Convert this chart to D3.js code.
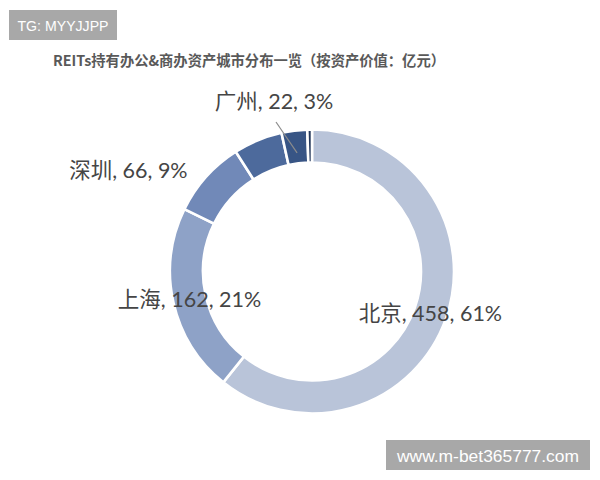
<!DOCTYPE html>
<html><head><meta charset="utf-8">
<script src="https://cdn.jsdelivr.net/npm/d3@7"></script>
<style>
html,body{margin:0;padding:0;background:#fff;}
svg{display:block;}
</style></head>
<body>
<svg id="c" width="600" height="480"></svg>
<script>
// ---- data ----
const categories = ["北京", "上海", "深圳", "其他A", "广州", "其他B"];
const values = [458, 162, 66, 42, 22, 4];
const percents = ["61%", "21%", "9%", "", "3%", ""];
const showLabel = [true, true, true, false, true, false];
const colors = ["#b9c4d9", "#8ea2c7", "#7189b8", "#4d6a9c", "#385585", "#23375a"];
const titleText = "REITs持有办公&商办资产城市分布一览（按资产价值：亿元）";

// ---- layout ----
const svg = d3.select("#c");
const cx = 312, cy = 271.5, rOuter = 142, rInner = 109;
const labelFont = "Lato, 'Noto Sans CJK SC', sans-serif";

// watermark top-left
svg.append("rect").attr("x", 9).attr("y", 10).attr("width", 108).attr("height", 30).attr("fill", "#a8a8a8");
svg.append("text").attr("x", 63).attr("y", 30.5).attr("text-anchor", "middle")
  .attr("font-family", "'Liberation Sans', Arial, sans-serif").attr("font-size", 15)
  .attr("textLength", 91).attr("lengthAdjust", "spacingAndGlyphs")
  .attr("fill", "#fff").text("TG: MYYJJPP");

// title
svg.append("text").attr("x", 249).attr("y", 66).attr("text-anchor", "middle")
  .attr("font-family", "'Noto Sans CJK SC', sans-serif").attr("font-weight", "bold")
  .attr("font-size", 14.3).attr("fill", "#595959").text(titleText);

// donut
const data = categories.map((c, i) => ({name: c, value: values[i], pct: percents[i], show: showLabel[i], color: colors[i]}));
const pie = d3.pie().value(d => d.value).sort(null).startAngle(0).endAngle(2 * Math.PI);
const arcs = pie(data);
const arc = d3.arc().innerRadius(rInner).outerRadius(rOuter);
const g = svg.append("g").attr("transform", `translate(${cx},${cy})`);
g.selectAll("path").data(arcs).join("path")
  .attr("d", arc).attr("fill", d => d.data.color)
  .attr("stroke", "#fff").attr("stroke-width", 2.6).attr("stroke-linejoin", "miter");

// label offsets relative to arc centroid (for labels moved outside)
const labelShift = {"深圳": [-90, -17]};
const labelAbs = {"广州": [274, 101]};

arcs.forEach(a => {
  if (!a.data.show) return;
  const c = arc.centroid(a);
  let x = cx + c[0], y = cy + c[1];
  if (labelShift[a.data.name]) { x += labelShift[a.data.name][0]; y += labelShift[a.data.name][1]; }
  if (labelAbs[a.data.name]) { x = labelAbs[a.data.name][0]; y = labelAbs[a.data.name][1]; }
  svg.append("text").attr("x", x).attr("y", y).attr("dy", "0.35em")
    .attr("text-anchor", "middle").attr("font-family", labelFont)
    .attr("font-size", 21.5).attr("fill", "#454545")
    .text(`${a.data.name}, ${a.data.value}, ${a.data.pct}`);
  if (a.data.name === "广州") {
    const r = (rInner + rOuter) / 2 - 6;
    const ang = (a.startAngle + a.endAngle) / 2;
    svg.append("line").attr("x1", 276).attr("y1", 122)
      .attr("x2", cx + r * Math.sin(ang)).attr("y2", cy - r * Math.cos(ang))
      .attr("stroke", "#8c8c8c").attr("stroke-width", 1.2);
  }
});

// watermark bottom-right
svg.append("rect").attr("x", 386).attr("y", 440).attr("width", 204).attr("height", 30).attr("fill", "#a8a8a8");
svg.append("text").attr("x", 488).attr("y", 461.5).attr("text-anchor", "middle")
  .attr("font-family", "'Liberation Sans', Arial, sans-serif").attr("font-size", 17)
  .attr("textLength", 182).attr("lengthAdjust", "spacingAndGlyphs")
  .attr("fill", "#fff").text("www.m-bet365777.com");
</script>
</body></html>
